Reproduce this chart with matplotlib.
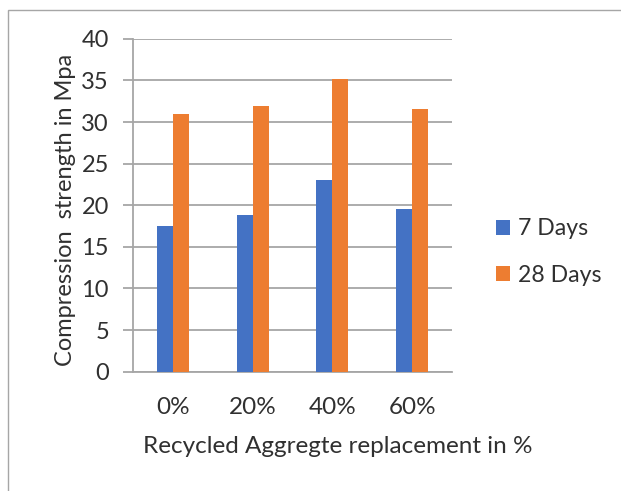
import matplotlib
matplotlib.use("Agg")
import matplotlib.pyplot as plt
import numpy as np
from matplotlib.patches import Rectangle

categories = ["0%", "20%", "40%", "60%"]
days7 = [17.5, 18.8, 23.0, 19.6]
days28 = [31.0, 31.9, 35.2, 31.6]
series_names = ["7 Days", "28 Days"]
colors = ["#4472C4", "#ED7D31"]

plt.rcParams["font.family"] = ["Lato", "DejaVu Sans"]
text_col = "#303030"

fig = plt.figure(figsize=(6.21, 4.91), dpi=100)
ax = fig.add_axes([0.214, 0.243, 0.514, 0.678])

x = np.arange(len(categories))
w = 0.2
b1 = ax.bar(x - w / 2, days7, width=w, color=colors[0], label=series_names[0], zorder=3)
b2 = ax.bar(x + w / 2, days28, width=w, color=colors[1], label=series_names[1], zorder=3)

ax.set_xlim(-0.5, 3.5)
ax.set_ylim(0, 40)
ax.set_yticks(np.arange(0, 41, 5))
ax.set_xticks(x)
ax.set_xticklabels(categories)

grid_col = "#A6A6A6"
ax.yaxis.grid(True, color=grid_col, linewidth=1.3, zorder=0)
for s in ["top", "right"]:
    ax.spines[s].set_visible(False)
for s in ["left", "bottom"]:
    ax.spines[s].set_color(grid_col)
    ax.spines[s].set_linewidth(1.3)

ax.tick_params(axis="y", length=7.2, width=1.3, color=grid_col, pad=10,
               labelsize=17, labelcolor=text_col)
ax.tick_params(axis="x", length=0, pad=18, labelsize=17.5, labelcolor=text_col)

ax.set_ylabel("Compression  strength in Mpa", fontsize=17, color=text_col,
              va="center", ha="center")
ax.yaxis.set_label_coords(-0.21, 0.485)
ax.set_xlabel("Recycled Aggregte replacement in %", fontsize=17.5, color=text_col,
              va="center", ha="center")
ax.xaxis.set_label_coords(0.643, -0.225)

leg = fig.legend(handles=[b1, b2], labels=series_names, loc="center left",
                 bbox_to_anchor=(0.765, 0.487), frameon=False, fontsize=16.6,
                 handlelength=0.62, handleheight=0.62, handletextpad=0.35,
                 labelspacing=1.1, labelcolor=text_col)

# light frame around the chart area
fig.patches.append(Rectangle((0.013, -0.05), 1.05, 1.03, transform=fig.transFigure,
                             fill=False, edgecolor="#A6A6A6", linewidth=1.0))

fig.savefig("out.png", dpi=100)
